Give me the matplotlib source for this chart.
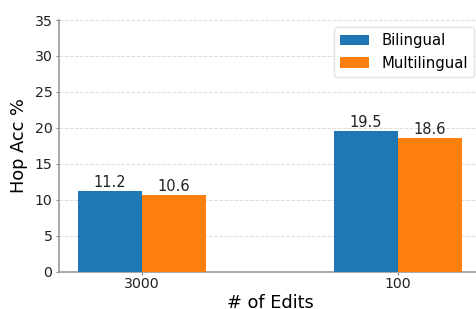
import matplotlib
matplotlib.use("Agg")
import matplotlib.pyplot as plt
import numpy as np

# === Data ===
edit_counts = ["3000", "100"]
bilingual = [11.2, 19.5]
multilingual = [10.6, 18.6]

# === Figure ===
W, H = 476, 309
fig = plt.figure(figsize=(W / 100, H / 100), dpi=100)
ax = fig.add_axes([59 / W, (H - 271.7) / H, (481 - 59) / W, (271.7 - 20) / H])

x = np.arange(len(edit_counts))
width = 0.25
b1 = ax.bar(x - width / 2, bilingual, width, color="#1f77b4", label="Bilingual", zorder=3)
b2 = ax.bar(x + width / 2, multilingual, width, color="#ff7f0e", label="Multilingual", zorder=3)

for bars in (b1, b2):
    ax.bar_label(bars, fmt="%.1f", padding=1, fontsize=10.5, color="#222222")

ax.set_xlim(-0.324, 1.324)
ax.set_ylim(0, 35)
ax.set_xticks(x)
ax.set_xticklabels(edit_counts, fontsize=10.2)
ax.tick_params(axis="y", labelsize=10.2, pad=2.5)
ax.tick_params(axis="x", pad=1.5)
ax.tick_params(colors="#888888", labelcolor="#222222", length=2.2)

ax.set_ylabel("Hop Acc %", fontsize=12.8, labelpad=5)
ax.set_xlabel("# of Edits", fontsize=12.8, labelpad=2)

ax.grid(axis="y", linestyle="--", color="#dddddd", linewidth=0.7, zorder=0)
for side in ("top", "right"):
    ax.spines[side].set_visible(False)
for side in ("left", "bottom"):
    ax.spines[side].set_color("#999999")
    ax.spines[side].set_linewidth(1.2)

ax.legend(loc="upper right", fontsize=10.7, frameon=True, edgecolor="#dddddd")

fig.savefig("out.png", dpi=100)
